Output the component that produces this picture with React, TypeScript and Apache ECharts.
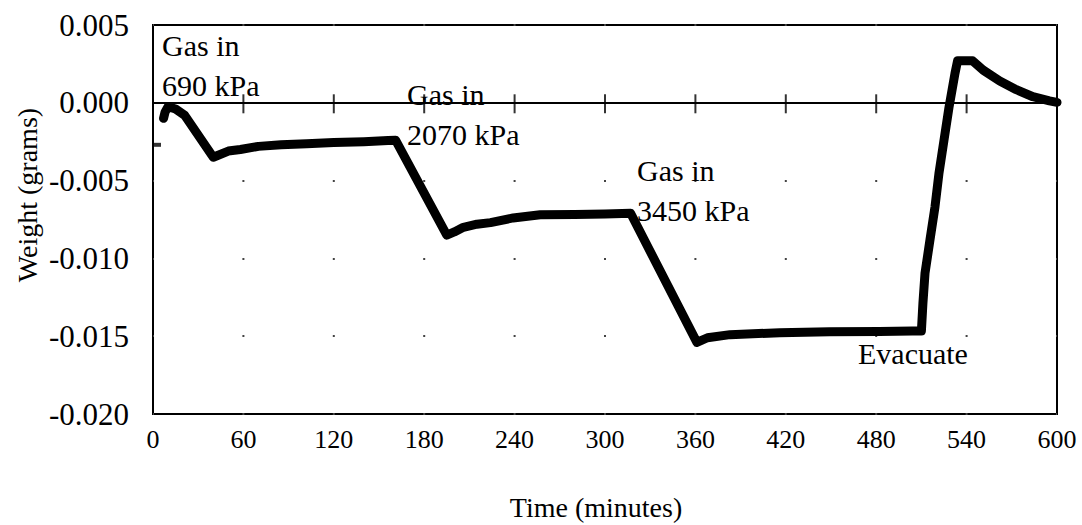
import React, { useEffect, useRef } from "react";
import * as echarts from "echarts";

// Time (minutes) and weight (grams)
const timeMin = [
  7, 8, 10, 15, 21, 40, 50, 58, 70, 85, 102, 120, 140, 156, 161,
  195, 200, 206, 215, 224, 239, 257, 280, 300, 317,
  361, 368, 383, 416, 449, 482, 504, 510,
  511, 512.4, 515.7, 519, 521.7, 525, 528.3, 532.3, 534,
  544, 551, 562, 573, 584, 595, 600,
];
const weightG = [
  -0.001, -0.0006, -0.00025, -0.0004, -0.0008, -0.0035, -0.0031, -0.003, -0.0028, -0.0027, -0.00263, -0.00255, -0.0025, -0.00243, -0.0024,
  -0.0085, -0.0083, -0.008, -0.0078, -0.0077, -0.0074, -0.0072, -0.00718, -0.00715, -0.0071,
  -0.0154, -0.0151, -0.0149, -0.01478, -0.01472, -0.0147, -0.01466, -0.01466,
  -0.0129, -0.01095, -0.0088, -0.0067, -0.0045, -0.0024, -0.0003, 0.0019, 0.0027,
  0.0027, 0.0021, 0.0014, 0.00084, 0.00039, 0.00012, 0.00003,
];

// isolated first reading
const firstTime = [3];
const firstWeight = [-0.0027];

// cross ticks drawn on the zero line
const zeroTickTimes = [60, 120, 180, 240, 300, 360, 420, 480, 540];

const xMin = 0;
const xMax = 600;
const xStep = 60;
const yMin = -0.02;
const yMax = 0.005;
const yStep = 0.005;

const annotationTexts = ["Gas in\n690 kPa", "Gas in\n2070 kPa", "Gas in\n3450 kPa", "Evacuate"];
const xTitle = "Time (minutes)";
const yTitle = "Weight (grams)";

const SERIF = "Liberation Serif";

export default function App() {
  const ref = useRef<HTMLDivElement>(null);
  useEffect(() => {
    if (!ref.current) return;
    const chart = echarts.init(ref.current, null, { renderer: "svg" });
    const baseX = {
      type: "value" as const,
      min: xMin,
      max: xMax,
      interval: xStep,
      splitLine: { show: false },
    };
    const annPos = [
      { left: 162, top: 25 },
      { left: 407, top: 74 },
      { left: 637, top: 150 },
      { left: 858, top: 333 },
    ];
    chart.setOption({
      animation: false,
      backgroundColor: "#fff",
      grid: {
        left: 153,
        right: 25,
        top: 25,
        bottom: 111,
        show: true,
        borderColor: "#000",
        borderWidth: 2,
        backgroundColor: "transparent",
      },
      xAxis: [
        {
          ...baseX,
          position: "bottom",
          axisLine: { show: false, onZero: false },
          axisTick: { show: false },
          axisLabel: { fontFamily: SERIF, fontSize: 26, color: "#000", margin: 12 },
        },
        {
          ...baseX,
          position: "bottom",
          axisLine: { show: true, onZero: true, lineStyle: { color: "#000", width: 2 } },
          axisTick: { show: false },
          axisLabel: { show: false },
        },
      ],
      yAxis: {
        type: "value",
        min: yMin,
        max: yMax,
        interval: yStep,
        axisLine: { show: false },
        axisTick: { show: false },
        axisLabel: {
          fontFamily: SERIF,
          fontSize: 31,
          color: "#000",
          margin: 24,
          formatter: (v: number) => (Math.abs(v) < 1e-9 ? "0.000" : v.toFixed(3)),
        },
        splitLine: {
          show: true,
          lineStyle: { color: "#444", width: 2, type: [2, 88.4], dashOffset: 1 },
        },
      },
      series: [
        {
          type: "scatter",
          name: "Zero ticks",
          xAxisIndex: 0,
          data: zeroTickTimes.map((t) => [t, 0]),
          symbol: "rect",
          symbolSize: [2, 19],
          symbolOffset: [0, 1],
          itemStyle: { color: "#000" },
          silent: true,
          z: 3,
        },
        {
          type: "line",
          name: "Weight",
          xAxisIndex: 0,
          data: timeMin.map((t, i) => [t, weightG[i]]),
          symbol: "none",
          showSymbol: false,
          lineStyle: { color: "#000", width: 9, join: "round", cap: "round" },
          z: 5,
        },
        {
          type: "scatter",
          name: "First reading",
          xAxisIndex: 0,
          data: firstTime.map((t, i) => [t, firstWeight[i]]),
          symbol: "rect",
          symbolSize: [7, 4],
          itemStyle: { color: "#000" },
          z: 5,
        },
      ],
      graphic: [
        ...annotationTexts.map((txt, i) => ({
          type: "text",
          left: annPos[i].left,
          top: annPos[i].top,
          z: 10,
          style: {
            text: txt,
            fontFamily: SERIF,
            fontSize: 30,
            lineHeight: 40,
            fill: "#000",
          },
        })),
        {
          type: "text",
          x: 596,
          y: 507,
          style: {
            text: xTitle,
            fontFamily: SERIF,
            fontSize: 28,
            fill: "#000",
            align: "center",
            verticalAlign: "middle",
          },
        },
        {
          type: "text",
          x: 27,
          y: 195,
          rotation: Math.PI / 2,
          style: {
            text: yTitle,
            fontFamily: SERIF,
            fontSize: 28,
            fill: "#000",
            align: "center",
            verticalAlign: "middle",
          },
        },
      ],
    });
    return () => chart.dispose();
  }, []);
  return (
    <div
      ref={ref}
      style={{ position: "fixed", left: 0, top: 0, width: 1082, height: 525, background: "#fff" }}
    />
  );
}
